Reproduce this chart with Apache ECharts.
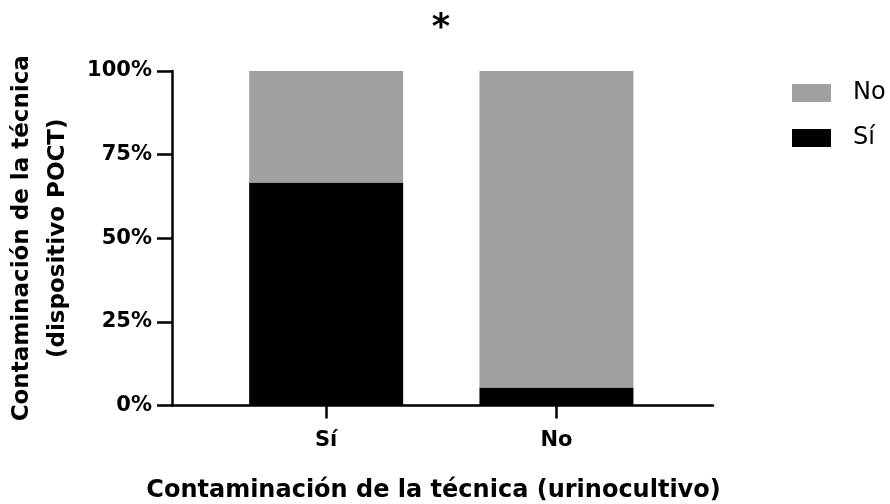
<!DOCTYPE html>
<html>
<head>
<meta charset="utf-8">
<script src="https://cdn.jsdelivr.net/npm/echarts@6/dist/echarts.min.js"></script>
<style>
  html, body { margin: 0; padding: 0; background: #fff; }
  #chart { width: 890px; height: 504px; }
</style>
</head>
<body>
<div id="chart"></div>
<script>
// Categories on the x axis (urine culture contamination)
const categories = ['Sí', 'No'];
// Percentage of POCT device contamination within each group
const siValues = [66.7, 5.4];
const noValues = [33.3, 94.6];
// Y axis tick values
const yTicks = [0, 25, 50, 75, 100];

const FONT = 'DejaVu Sans';
const BLACK = '#000000';
const chart = echarts.init(document.getElementById('chart'));

const hidden = { show: false };

chart.setOption({
  animation: false,
  backgroundColor: '#ffffff',
  // grid 0: axis frame (y axis and full-length x axis line); grid 1: the bars
  grid: [
    { left: 172, right: 177, top: 71, bottom: 98.5, outerBoundsMode: 'none' },
    { left: 211, right: 218.4, top: 71, bottom: 98.5, outerBoundsMode: 'none' }
  ],
  graphic: [{
    type: 'text',
    x: 441, y: 29,
    style: {
      text: '*', fill: BLACK, font: 'bold 35px "DejaVu Sans"',
      textAlign: 'center', textVerticalAlign: 'middle'
    }
  }],
  legend: {
    orient: 'vertical',
    left: 792, top: 81,
    padding: 0,
    itemWidth: 39, itemHeight: 18, itemGap: 21,
    icon: 'rect',
    data: ['No', 'Sí'],
    textStyle: { fontFamily: FONT, fontSize: 24, color: BLACK, padding: [0, 0, 0, 17] }
  },
  xAxis: [
    {
      gridIndex: 0,
      type: 'value', min: 0, max: 1,
      name: 'Contaminación de la técnica (urinocultivo)',
      nameLocation: 'middle',
      nameGap: 73,
      nameTextStyle: { fontFamily: FONT, fontWeight: 'bold', fontSize: 24, color: BLACK, padding: [0, 18, 0, 0] },
      splitLine: hidden,
      axisLine: { show: true, lineStyle: { color: BLACK, width: 2.5 } },
      axisTick: hidden,
      axisLabel: hidden
    },
    {
      gridIndex: 1,
      type: 'category',
      data: categories,
      axisLine: hidden,
      splitLine: hidden,
      axisTick: { show: true, alignWithLabel: true, length: 13, lineStyle: { color: BLACK, width: 2.5 } },
      axisLabel: {
        margin: 25,
        fontFamily: FONT, fontWeight: 'bold', fontSize: 21, color: BLACK
      }
    }
  ],
  yAxis: [
    {
      gridIndex: 0,
      type: 'value',
      min: 0, max: 100, interval: 25,
      name: 'Contaminación de la técnica\n(dispositivo POCT)',
      nameLocation: 'middle',
      nameRotate: 90,
      nameGap: 90,
      nameTextStyle: { fontFamily: FONT, fontWeight: 'bold', fontSize: 23, color: BLACK, lineHeight: 36 },
      splitLine: hidden,
      axisLine: { show: true, lineStyle: { color: BLACK, width: 2.5 } },
      axisTick: { show: true, length: 15, lineStyle: { color: BLACK, width: 2.5 } },
      axisLabel: {
        customValues: yTicks,
        formatter: '{value}%',
        margin: 20,
        fontFamily: FONT, fontWeight: 'bold', fontSize: 21, color: BLACK
      }
    },
    {
      gridIndex: 1,
      type: 'value',
      min: 0, max: 100,
      show: false
    }
  ],
  series: [
    {
      name: 'Sí', type: 'bar', stack: 'total', barWidth: 154,
      xAxisIndex: 1, yAxisIndex: 1,
      itemStyle: { color: BLACK },
      data: siValues
    },
    {
      name: 'No', type: 'bar', stack: 'total', barWidth: 154,
      xAxisIndex: 1, yAxisIndex: 1,
      itemStyle: { color: '#a0a0a0' },
      data: noValues
    }
  ]
});
</script>
</body>
</html>
